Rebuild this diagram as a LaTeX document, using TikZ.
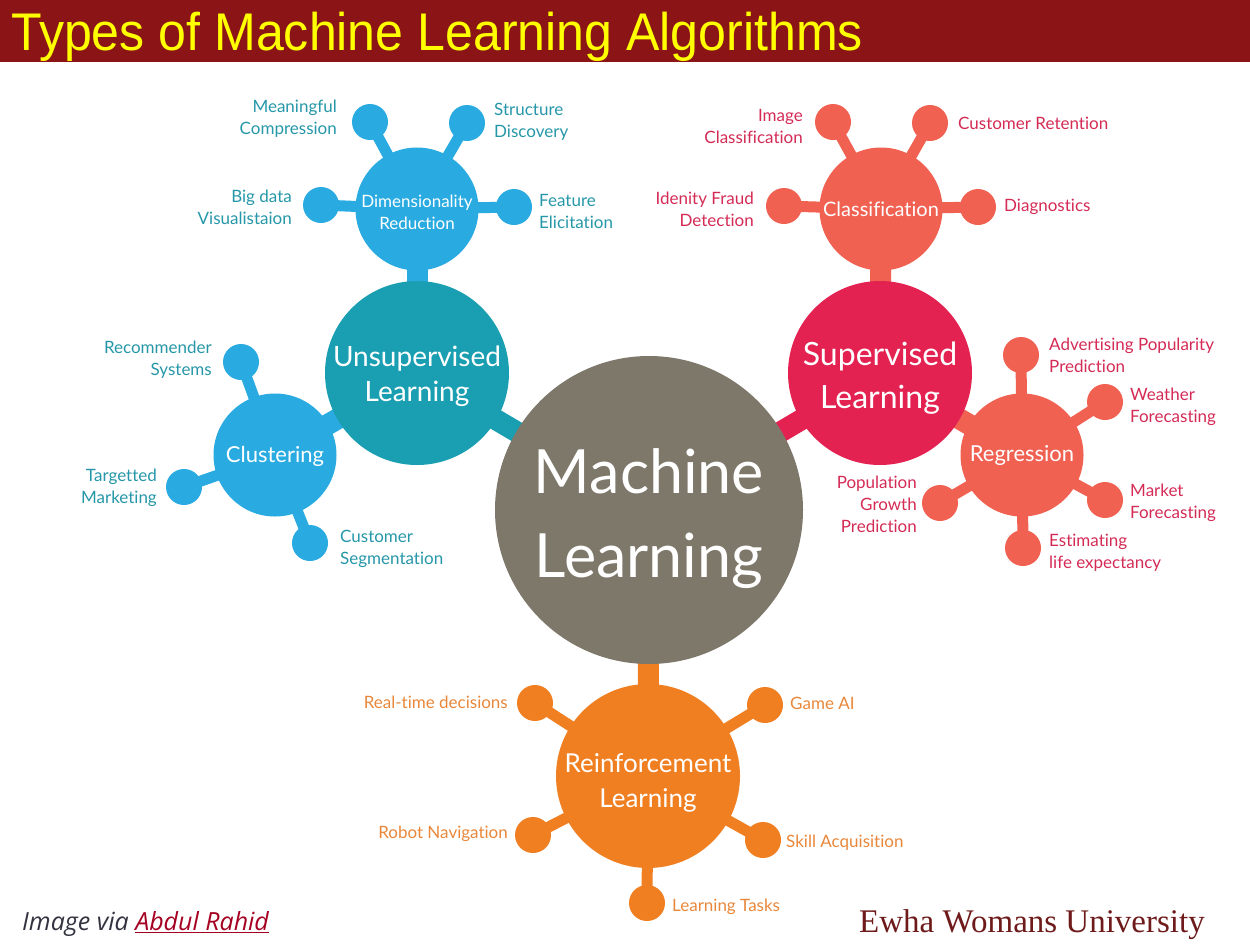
\documentclass[tikz,border=0pt]{standalone}
\usepackage{fontspec}
\setmainfont[Ligatures={NoCommon}]{Lato}
\newfontfamily\titlefont[FakeStretch=0.945]{Liberation Sans}
\newfontfamily\capfont{Open Sans}
\newfontfamily\uniserif{Liberation Serif}
\usetikzlibrary{backgrounds}
\definecolor{titlebg}{HTML}{8B1516}
\definecolor{titleyellow}{HTML}{FFFF00}
\definecolor{mlgray}{HTML}{7E786B}
\definecolor{tealc}{HTML}{1A9EB1}
\definecolor{lblue}{HTML}{29AAE1}
\definecolor{crimsonc}{HTML}{E32252}
\definecolor{salmonc}{HTML}{F06152}
\definecolor{orangec}{HTML}{F07F22}
\definecolor{tealtext}{HTML}{2697A8}
\definecolor{crimtext}{HTML}{D42B55}
\definecolor{orangetext}{HTML}{E8873A}
\definecolor{captext}{HTML}{333340}
\definecolor{linkred}{HTML}{A50021}
\definecolor{ewhared}{HTML}{6E1A1A}
\tikzset{
  hub/.style={circle, inner sep=0pt},
  hubtext/.style={inner sep=0pt, text=white, align=center},
  sat/.style={circle, minimum size=36pt, inner sep=0pt},
  lab/.style={inner sep=0pt, font=\fontsize{17}{22}\selectfont},
  bar/.style={line width=21pt},
  stub/.style={line width=11pt},
}
\begin{document}
\begin{tikzpicture}[x=1pt,y=-1pt]
\useasboundingbox (0,0) rectangle (1250,948);
\fill[titlebg] (0,0) rectangle (1250,62);
\node[anchor=base west, text=titleyellow, inner sep=0pt, font=\titlefont\fontsize{53}{60}\selectfont] (title) at (11,50) {Types of Machine Learning Algorithms};

% hubs
\node[hub, fill=mlgray, minimum size=308pt] (ml) at (649,510) {};
\node[hub, fill=tealc, minimum size=184pt] (ul) at (417,373) {};
\node[hub, fill=lblue, minimum size=123pt] (dr) at (417,209) {};
\node[hub, fill=lblue, minimum size=123pt] (cl) at (275,455) {};
\node[hub, fill=crimsonc, minimum size=184pt] (sl) at (880,373) {};
\node[hub, fill=salmonc, minimum size=123pt] (cf) at (881,209) {};
\node[hub, fill=salmonc, minimum size=123pt] (rg) at (1022,455) {};
\node[hub, fill=orangec, minimum size=184pt] (rl) at (648,776) {};

\node[hubtext, font=\fontsize{61}{84}\selectfont] (mlt) at ([yshift=-9pt]ml.center) {Machine\\Learning};
\node[hubtext, font=\fontsize{28}{35}\selectfont] (ult) at ([yshift=-3pt]ul.center) {Unsupervised\\Learning};
\node[hubtext, font=\fontsize{17}{22}\selectfont] (drt) at ([yshift=-3pt]dr.center) {Dimensionality\\Reduction};
\node[hubtext, font=\fontsize{22}{26}\selectfont] (clt) at ([yshift=-1pt]cl.center) {Clustering};
\node[hubtext, font=\fontsize{32}{43}\selectfont] (slt) at ([yshift=-5pt]sl.center) {Supervised\\Learning};
\node[hubtext, font=\fontsize{20}{24}\selectfont] (cft) at (cf.center) {Classification};
\node[hubtext, font=\fontsize{22}{26}\selectfont] (rgt) at (rg.center) {Regression};
\node[hubtext, font=\fontsize{26}{35}\selectfont] (rlt) at ([yshift=-7pt]rl.center) {Reinforcement\\Learning};

% satellites
\node[sat, fill=lblue] (mc) at (370,122) {};
\node[sat, fill=lblue] (sd) at (467,123) {};
\node[sat, fill=lblue] (bd) at (321,205) {};
\node[sat, fill=lblue] (fe) at (514,207) {};
\node[sat, fill=lblue] (rs) at (241,362) {};
\node[sat, fill=lblue] (tm) at (184,487) {};
\node[sat, fill=lblue] (cs) at (310,543) {};
\node[sat, fill=salmonc] (ic) at (833,122) {};
\node[sat, fill=salmonc] (cr) at (930,123) {};
\node[sat, fill=salmonc] (fd) at (784,206) {};
\node[sat, fill=salmonc] (dg) at (978,207) {};
\node[sat, fill=salmonc] (ap) at (1021,355) {};
\node[sat, fill=salmonc] (wf) at (1105,402) {};
\node[sat, fill=salmonc] (mf) at (1105,500) {};
\node[sat, fill=salmonc] (le) at (1023,548) {};
\node[sat, fill=salmonc] (pg) at (940,503) {};
\node[sat, fill=orangec] (rt) at (535,703) {};
\node[sat, fill=orangec] (ga) at (765,705) {};
\node[sat, fill=orangec] (rn) at (533,835) {};
\node[sat, fill=orangec] (sa) at (763,840) {};
\node[sat, fill=orangec] (lt) at (647,903) {};

% connectors
\begin{pgfonlayer}{background}
\draw[bar, tealc] (ml.center) -- (ul.center);
\draw[bar, crimsonc] (ml.center) -- (sl.center);
\draw[bar, orangec] (ml.center) -- (rl.center);
\draw[bar, lblue] (ul.center) -- (dr.center);
\draw[bar, lblue] (ul.center) -- (cl.center);
\draw[bar, salmonc] (sl.center) -- (cf.center);
\draw[bar, salmonc] (sl.center) -- (rg.center);
\foreach \s in {mc,sd,bd,fe} \draw[stub, lblue] (dr.center) -- (\s.center);
\foreach \s in {rs,tm,cs} \draw[stub, lblue] (cl.center) -- (\s.center);
\foreach \s in {ic,cr,fd,dg} \draw[stub, salmonc] (cf.center) -- (\s.center);
\foreach \s in {ap,wf,mf,le,pg} \draw[stub, salmonc] (rg.center) -- (\s.center);
\foreach \s in {rt,ga,rn,sa,lt} \draw[stub, orangec] (rl.center) -- (\s.center);
\end{pgfonlayer}

% labels
\node[lab, text=tealtext, anchor=east, align=right] (mcl) at (337,119) {Meaningful\\Compression};
\node[lab, text=tealtext, anchor=west, align=left] (sdl) at (494,122) {Structure\\Discovery};
\node[lab, text=tealtext, anchor=east, align=right] (bdl) at (292,207) {Big data\\Visualistaion};
\node[lab, text=tealtext, anchor=west, align=left] (fel) at (539,211) {Feature\\Elicitation};
\node[lab, text=tealtext, anchor=east, align=right] (rsl) at (212,360) {Recommender\\Systems};
\node[lab, text=tealtext, anchor=east, align=right] (tml) at (157,488) {Targetted\\Marketing};
\node[lab, text=tealtext, anchor=west, align=left] (csl) at (340,549) {Customer\\Segmentation};

\node[lab, text=crimtext, anchor=east, align=right] (icl) at (803,126) {Image\\Classification};
\node[lab, text=crimtext, anchor=west, align=left] (crl) at (958,123) {Customer Retention};
\node[lab, text=crimtext, anchor=east, align=right] (fdl) at (754,209) {Idenity Fraud\\Detection};
\node[lab, text=crimtext, anchor=west, align=left] (dgl) at (1004,207) {Diagnostics};
\node[lab, text=crimtext, anchor=west, align=left] (apl) at (1049,355) {Advertising Popularity\\Prediction};
\node[lab, text=crimtext, anchor=west, align=left] (wfl) at (1130,407) {Weather\\Forecasting};
\node[lab, text=crimtext, anchor=west, align=left] (mfl) at (1130,503) {Market\\Forecasting};
\node[lab, text=crimtext, anchor=west, align=left] (lel) at (1049,553) {Estimating\\life expectancy};
\node[lab, text=crimtext, anchor=east, align=right] (pgl) at (917,504) {Population\\Growth\\Prediction};

\node[lab, text=orangetext, anchor=east, align=right] (rtl) at (508,702) {Real-time decisions};
\node[lab, text=orangetext, anchor=west, align=left] (gal) at (790,703) {Game AI};
\node[lab, text=orangetext, anchor=east, align=right] (rnl) at (508,834) {Robot Navigation};
\node[lab, text=orangetext, anchor=west, align=left] (sal) at (786,843) {Skill Acquisition};
\node[lab, text=orangetext, anchor=west, align=left] (ltl) at (672,907) {Learning Tasks};

% footer
\node[anchor=west, inner sep=0pt, font=\capfont\itshape\fontsize{25}{30}\selectfont, text=captext] (credit) at (22,924) {Image via \textcolor{linkred}{\underline{Abdul Rahid}}};
\node[anchor=east, inner sep=0pt, font=\uniserif\fontsize{33}{38}\selectfont, text=ewhared] (ewha) at (1205,925) {Ewha Womans University};
\end{tikzpicture}
\end{document}
